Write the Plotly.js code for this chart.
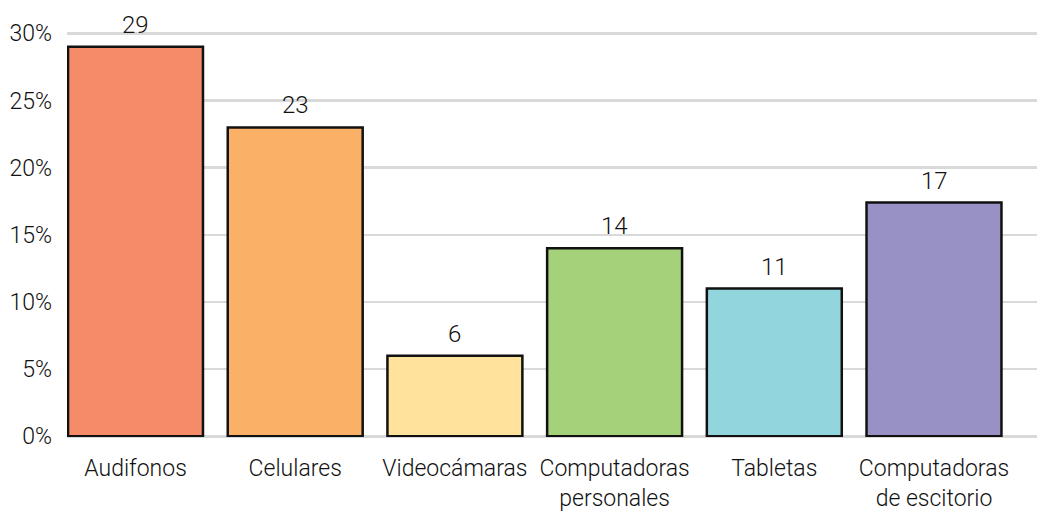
<!DOCTYPE html>
<html><head><meta charset="utf-8">
<script src="https://cdn.plot.ly/plotly-3.0.1.min.js"></script>
<style>html,body{margin:0;padding:0;background:#fff}#chart{width:1037px;height:516px}</style>
</head><body><div id="chart"></div>
<script>
var categories = ["Audifonos", "Celulares", "Videocámaras", "Computadoras<br>personales", "Tabletas", "Computadoras<br>de escitorio"];
var values = [29, 23, 6, 14, 11, 17.4];
var colors = ["#F58B69", "#FAB066", "#FFE39C", "#A5D17A", "#92D5DD", "#9891C5"];
var yTicks = [0, 5, 10, 15, 20, 25, 30];

var FONT = "Roboto, 'Noto Sans', sans-serif";
var idx = categories.map(function(c, i){ return i; });

var trace = {
  type: "bar",
  x: idx,
  y: values,
  marker: { color: colors, line: { color: "#111", width: 2.5 } },
  width: 0.845,
  hoverinfo: "none"
};

var annotations = values.map(function(v, i){
  return {
    x: i, y: v, xref: "x", yref: "y",
    text: String(Math.round(v)),
    showarrow: false, yanchor: "bottom", yshift: 6,
    font: { family: FONT, size: 24, color: "#111", weight: 300 }
  };
});

var layout = {
  width: 1037, height: 516,
  margin: { l: 67, r: 0, t: 30, b: 79 },
  paper_bgcolor: "#fff", plot_bgcolor: "#fff",
  showlegend: false,
  font: { family: FONT, size: 23, color: "#111", weight: 300 },
  annotations: annotations,
  xaxis: {
    range: [-0.429, 5.645],
    tickvals: idx,
    ticktext: categories,
    showgrid: false, zeroline: false, showline: false,
    ticks: "", ticklabelstandoff: 15,
    tickfont: { family: FONT, size: 23, color: "#111", weight: 300 }
  },
  yaxis: {
    range: [-0.05, 30.25],
    tickvals: yTicks,
    ticktext: yTicks.map(function(v){ return v + "%"; }),
    showgrid: true, gridcolor: "#d9d9d9", gridwidth: 2.5,
    zeroline: true, zerolinecolor: "#d9d9d9", zerolinewidth: 2.5,
    showline: false, ticks: "",
    ticklabelstandoff: 14,
    tickfont: { family: FONT, size: 23, color: "#111", weight: 300 }
  }
};

Plotly.newPlot("chart", [trace], layout, { staticPlot: true, displayModeBar: false });
</script></body></html>
